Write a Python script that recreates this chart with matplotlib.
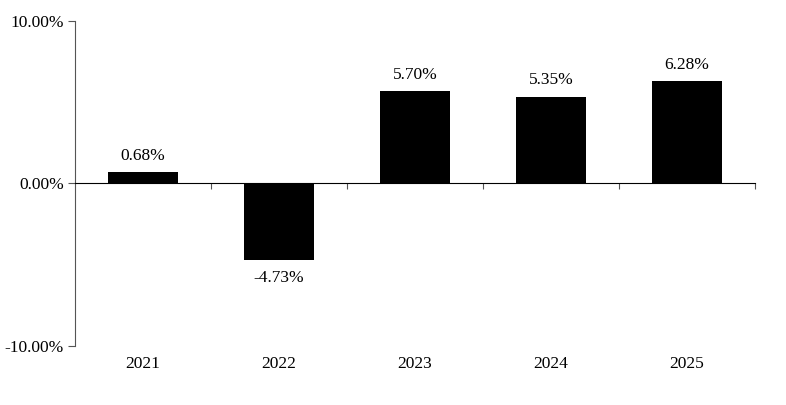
import matplotlib.pyplot as plt

years = ['2021', '2022', '2023', '2024', '2025']
returns = [0.68, -4.73, 5.70, 5.35, 6.28]
y_ticks = [-10, 0, 10]

plt.rcParams['font.family'] = ['Liberation Serif', 'DejaVu Serif']

fig = plt.figure(figsize=(7.86, 4.05), dpi=100)
ax = fig.add_axes([0.0954, 0.146, 0.8652, 0.802])

x = list(range(len(years)))
ax.bar(x, returns, width=0.52, color='black', zorder=2)

for xi, v in zip(x, returns):
    off = 6 if v >= 0 else -7
    ax.annotate(f'{v:.2f}%', (xi, v), xytext=(0, off), textcoords='offset points',
                ha='center', va='bottom' if v >= 0 else 'top', fontsize=12.5)

ax.set_xlim(-0.5, 4.5)
ax.set_ylim(-10, 10)
ax.set_yticks(y_ticks)
ax.set_yticklabels([f'{t:.2f}%' for t in y_ticks], fontsize=12.5)

# zero line acts as the x axis, with ticks at category boundaries
ax.spines['bottom'].set_position(('data', 0))
ax.spines['bottom'].set_color('black')
ax.spines['top'].set_visible(False)
ax.spines['right'].set_visible(False)
ax.spines['left'].set_color('#555555')
ax.set_xticks([0.5, 1.5, 2.5, 3.5, 4.5])
ax.set_xticklabels([])
ax.tick_params(axis='x', direction='out', length=4, color='#555555')
ax.tick_params(axis='y', direction='out', length=5, color='#555555', pad=3)

for xi, yr in zip(x, years):
    ax.text(xi, -0.03, yr, transform=ax.get_xaxis_transform(),
            ha='center', va='top', fontsize=12.5)

fig.savefig('out.png', dpi=100)
